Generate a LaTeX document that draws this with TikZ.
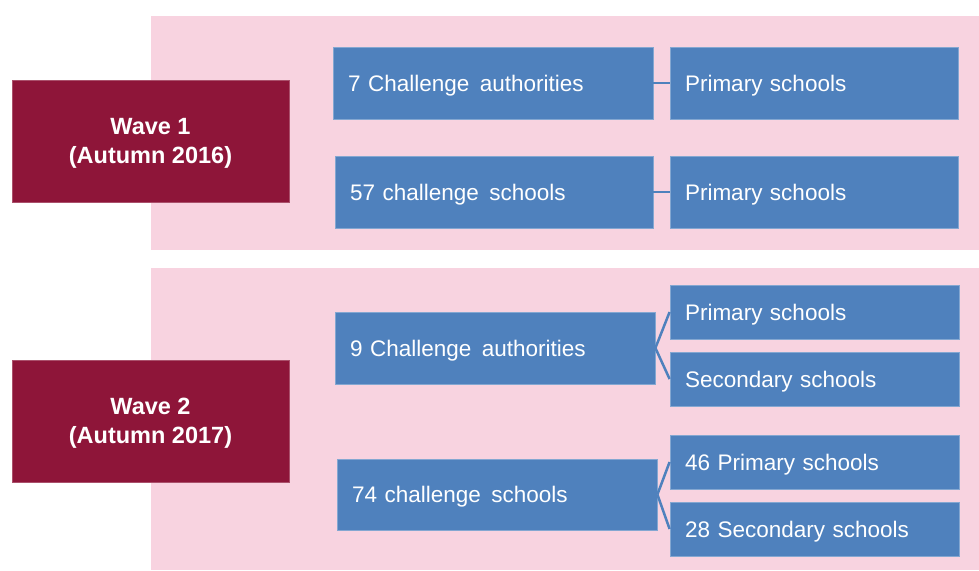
\documentclass[tikz,border=0pt]{standalone}
\usepackage{fontspec}
\setmainfont{Liberation Sans}
\usepackage{xcolor}
\usepackage{tikz}
\usetikzlibrary{positioning,calc}

\definecolor{bandpink}{RGB}{248,211,224}
\definecolor{wavered}{RGB}{142,21,57}
\definecolor{unitblue}{RGB}{79,129,189}

\begin{document}
\begin{tikzpicture}[x=1pt, y=-1pt,
    wavebox/.style={rectangle, fill=wavered, draw=wavered!75!white, line width=0.8pt,
        minimum width=277pt, minimum height=122pt, text=white, align=center,
        text depth=0pt, font=\fontsize{23.5}{29}\selectfont\bfseries},
    unitbox/.style={rectangle, fill=unitblue, draw=unitblue!70!white, line width=0.8pt,
        inner xsep=15pt, text width=#1-30pt, minimum height=72pt, text=white,
        text height=16pt, text depth=0pt, align=left, font=\fontsize{22.5}{26}\selectfont},
    unitbox/.default=320pt,
    link/.style={draw=unitblue, line width=2.5pt}]
        \useasboundingbox (0,0) rectangle (979,570);

        % Background bands
        \fill[bandpink] (151,16) rectangle (979,250);
        \fill[bandpink] (151,268) rectangle (979,570);

        % Wave 1
        \node[wavebox] (wave1) at (150.5,141) {Wave 1\\(Autumn 2016)};
        \node[unitbox=320pt] (auth1) at (493,83) {7 Challenge\hspace{3pt} authorities};
        \node[unitbox=318pt] (sch1) at (494,192) {57 challenge\hspace{3pt} schools};
        \node[unitbox=288pt] (prim1a) at (814,83) {Primary schools};
        \node[unitbox=288pt] (prim1b) at (814,192) {Primary schools};

        % Wave 2
        \node[wavebox] (wave2) at (150.5,421) {Wave 2\\(Autumn 2017)};
        \node[unitbox=320pt] (auth2) at (495,348) {9 Challenge\hspace{3pt} authorities};
        \node[unitbox=320pt, minimum height=71pt] (sch2) at (497,494.5) {74 challenge\hspace{3pt} schools};
        \node[unitbox=289pt, minimum height=54pt] (prim2a) at (814.5,312) {Primary schools};
        \node[unitbox=289pt, minimum height=54pt] (sec2a) at (814.5,379) {Secondary schools};
        \node[unitbox=289pt, minimum height=54pt] (prim2b) at (814.5,462) {46 Primary schools};
        \node[unitbox=289pt, minimum height=54pt] (sec2b) at (814.5,529) {28 Secondary schools};

        % Links
        \draw[link] (auth1.east) -- (prim1a.west);
        \draw[link] (sch1.east) -- (prim1b.west);
        \draw[link] (auth2.east) -- (prim2a.west);
        \draw[link] (auth2.east) -- (sec2a.west);
        \draw[link] (sch2.east) -- (prim2b.west);
        \draw[link] (sch2.east) -- (sec2b.west);
    \end{tikzpicture}
\end{document}
